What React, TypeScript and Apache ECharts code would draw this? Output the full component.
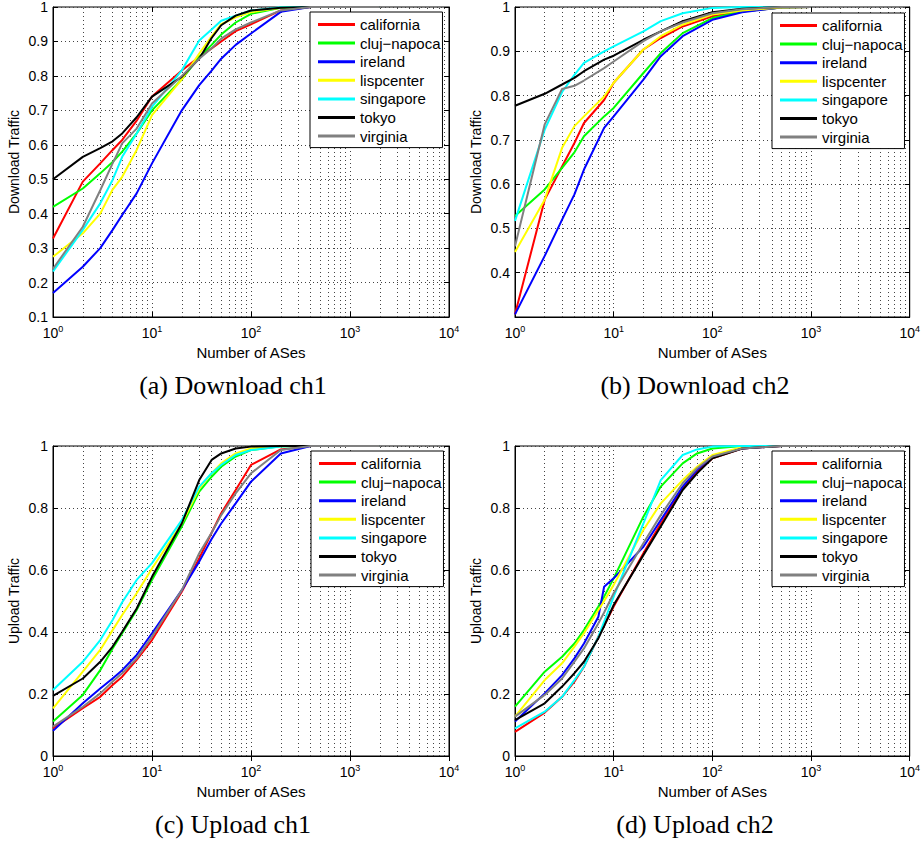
import React, { useEffect, useRef } from "react";
import * as echarts from "echarts";

const NAMES = ["california", "cluj\u2212napoca", "ireland", "lispcenter", "singapore", "tokyo", "virginia"];
const COLORS = ["#ff0000", "#00ff00", "#0000ff", "#ffff00", "#00ffff", "#000000", "#808080"];

// (a) Download ch1
const X_A = [1, 2, 3, 4, 5, 7, 10, 20, 30, 40, 50, 70, 100, 200, 400, 2000];
const A_CALIFORNIA = [0.328, 0.493, 0.546, 0.585, 0.614, 0.67, 0.74, 0.816, 0.855, 0.88, 0.9, 0.93, 0.95, 0.99, 1, 1];
const A_CLUJ = [0.42, 0.473, 0.517, 0.55, 0.58, 0.633, 0.7, 0.79, 0.855, 0.89, 0.92, 0.955, 0.98, 0.998, 1, 1];
const A_IRELAND = [0.17, 0.246, 0.3, 0.353, 0.396, 0.459, 0.546, 0.7, 0.773, 0.815, 0.85, 0.89, 0.923, 0.986, 1, 1];
const A_LISPCENTER = [0.275, 0.343, 0.4, 0.47, 0.507, 0.585, 0.686, 0.79, 0.865, 0.915, 0.95, 0.97, 0.985, 0.998, 1, 1];
const A_SINGAPORE = [0.232, 0.353, 0.43, 0.498, 0.565, 0.633, 0.71, 0.816, 0.903, 0.935, 0.96, 0.975, 0.99, 0.999, 1, 1];
const A_TOKYO = [0.5, 0.565, 0.59, 0.61, 0.633, 0.68, 0.74, 0.797, 0.85, 0.91, 0.947, 0.975, 0.99, 0.998, 1, 1];
const A_VIRGINIA = [0.24, 0.362, 0.468, 0.546, 0.604, 0.647, 0.72, 0.8, 0.85, 0.88, 0.908, 0.935, 0.955, 0.99, 1, 1];

// (b) Download ch2
const X_B = [1, 2, 3, 4, 5, 8, 10, 20, 30, 50, 100, 200, 500, 1000];
const B_CALIFORNIA = [0.306, 0.565, 0.64, 0.693, 0.738, 0.79, 0.829, 0.904, 0.93, 0.956, 0.979, 0.99, 0.999, 1];
const B_CLUJ = [0.528, 0.588, 0.637, 0.672, 0.708, 0.753, 0.772, 0.851, 0.896, 0.941, 0.975, 0.99, 0.999, 1];
const B_IRELAND = [0.306, 0.438, 0.52, 0.577, 0.633, 0.727, 0.753, 0.836, 0.889, 0.934, 0.971, 0.988, 0.999, 1];
const B_LISPCENTER = [0.447, 0.565, 0.682, 0.731, 0.753, 0.798, 0.829, 0.904, 0.934, 0.96, 0.983, 0.992, 0.999, 1];
const B_SINGAPORE = [0.517, 0.723, 0.808, 0.847, 0.874, 0.9, 0.911, 0.945, 0.968, 0.986, 0.998, 1, 1, 1];
const B_TOKYO = [0.777, 0.804, 0.825, 0.84, 0.855, 0.881, 0.89, 0.926, 0.945, 0.968, 0.988, 0.996, 1, 1];
const B_VIRGINIA = [0.46, 0.735, 0.815, 0.822, 0.834, 0.862, 0.877, 0.923, 0.945, 0.965, 0.986, 0.995, 1, 1];

// (c) Upload ch1
const X_C = [1, 2, 3, 4, 5, 7, 10, 20, 30, 40, 50, 70, 100, 200, 400, 2000];
const C_CALIFORNIA = [0.089, 0.154, 0.191, 0.229, 0.256, 0.31, 0.374, 0.53, 0.638, 0.72, 0.783, 0.858, 0.939, 0.989, 1, 1];
const C_CLUJ = [0.111, 0.197, 0.277, 0.347, 0.396, 0.471, 0.568, 0.74, 0.853, 0.901, 0.933, 0.966, 0.987, 0.999, 1, 1];
const C_IRELAND = [0.081, 0.17, 0.218, 0.25, 0.277, 0.326, 0.396, 0.535, 0.627, 0.7, 0.75, 0.815, 0.885, 0.976, 1, 1];
const C_LISPCENTER = [0.154, 0.272, 0.342, 0.406, 0.455, 0.525, 0.605, 0.75, 0.863, 0.912, 0.944, 0.976, 0.992, 0.999, 1, 1];
const C_SINGAPORE = [0.213, 0.304, 0.374, 0.439, 0.496, 0.568, 0.622, 0.761, 0.869, 0.912, 0.939, 0.971, 0.987, 0.998, 1, 1];
const C_TOKYO = [0.194, 0.25, 0.304, 0.353, 0.401, 0.476, 0.578, 0.75, 0.89, 0.955, 0.976, 0.992, 0.998, 1, 1, 1];
const C_VIRGINIA = [0.095, 0.159, 0.202, 0.24, 0.267, 0.315, 0.385, 0.535, 0.654, 0.72, 0.777, 0.847, 0.912, 0.987, 1, 1];

// (d) Upload ch2
const X_D = [1, 2, 3, 4, 5, 7, 8, 10, 20, 30, 50, 70, 100, 200, 500, 1000];
const D_CALIFORNIA = [0.078, 0.14, 0.191, 0.24, 0.288, 0.385, 0.42, 0.482, 0.654, 0.75, 0.863, 0.917, 0.96, 0.992, 1, 1];
const D_CLUJ = [0.159, 0.272, 0.32, 0.363, 0.406, 0.482, 0.514, 0.573, 0.772, 0.869, 0.944, 0.976, 0.992, 1, 1, 1];
const D_IRELAND = [0.111, 0.202, 0.261, 0.315, 0.363, 0.449, 0.546, 0.573, 0.675, 0.761, 0.869, 0.923, 0.966, 0.992, 1, 1];
const D_LISPCENTER = [0.127, 0.245, 0.299, 0.353, 0.396, 0.471, 0.5, 0.552, 0.729, 0.815, 0.89, 0.933, 0.971, 0.996, 1, 1];
const D_SINGAPORE = [0.089, 0.143, 0.191, 0.245, 0.288, 0.385, 0.433, 0.514, 0.75, 0.89, 0.971, 0.989, 0.998, 1, 1, 1];
const D_TOKYO = [0.116, 0.17, 0.224, 0.267, 0.304, 0.38, 0.419, 0.487, 0.648, 0.74, 0.858, 0.912, 0.96, 0.992, 1, 1];
const D_VIRGINIA = [0.127, 0.197, 0.25, 0.304, 0.347, 0.428, 0.463, 0.525, 0.686, 0.777, 0.88, 0.928, 0.966, 0.992, 1, 1];

const MINOR_X = [2, 3, 4, 5, 6, 7, 8, 9, 20, 30, 40, 50, 60, 70, 80, 90, 200, 300, 400, 500, 600, 700, 800, 900, 2000, 3000, 4000, 5000, 6000, 7000, 8000, 9000];

const Y_LABELS = ["Download Traffic", "Download Traffic", "Upload Traffic", "Upload Traffic"];
const CAPTIONS = ["(a) Download ch1", "(b) Download ch2", "(c) Upload ch1", "(d) Upload ch2"];
const Y_MIN = [0.1, 0.3, 0, 0];
const Y_INTERVAL = [0.1, 0.1, 0.2, 0.2];

const PANELS = [
  { xs: X_A, ys: [A_CALIFORNIA, A_CLUJ, A_IRELAND, A_LISPCENTER, A_SINGAPORE, A_TOKYO, A_VIRGINIA] },
  { xs: X_B, ys: [B_CALIFORNIA, B_CLUJ, B_IRELAND, B_LISPCENTER, B_SINGAPORE, B_TOKYO, B_VIRGINIA] },
  { xs: X_C, ys: [C_CALIFORNIA, C_CLUJ, C_IRELAND, C_LISPCENTER, C_SINGAPORE, C_TOKYO, C_VIRGINIA] },
  { xs: X_D, ys: [D_CALIFORNIA, D_CLUJ, D_IRELAND, D_LISPCENTER, D_SINGAPORE, D_TOKYO, D_VIRGINIA] },
];

const GRIDS = [
  { left: 53, top: 7, width: 396, height: 310 },
  { left: 515, top: 7, width: 395, height: 310 },
  { left: 53, top: 446, width: 396, height: 310 },
  { left: 515, top: 446, width: 395, height: 310 },
];
const LEGEND_POS = [
  { left: 310, top: 12 },
  { left: 772, top: 13 },
  { left: 311, top: 451 },
  { left: 772, top: 451 },
];
const CAPTION_POS = [
  { x: 233, y: 385 },
  { x: 695, y: 385 },
  { x: 233, y: 824 },
  { x: 695, y: 824 },
];

const SANS = "Liberation Sans, Arial, sans-serif";
const DOT = { type: [1, 3] as any, color: "#444", width: 1 };

export default function App() {
  const ref = useRef<HTMLDivElement>(null);
  useEffect(() => {
    if (!ref.current) return;
    const chart = echarts.init(ref.current, undefined, { renderer: "svg" });

    const xAxis: any[] = [];
    const yAxis: any[] = [];
    const series: any[] = [];

    GRIDS.forEach((_, p) => {
      xAxis.push({
        type: "log",
        logBase: 10,
        min: 1,
        max: 10000,
        gridIndex: p,
        name: "Number of ASes",
        nameLocation: "middle",
        nameGap: 28,
        nameTextStyle: { fontFamily: SANS, fontSize: 15, color: "#000" },
        axisLine: { lineStyle: { color: "#000", width: 1 } },
        axisTick: { inside: true, length: 5, lineStyle: { color: "#000" } },
        axisLabel: {
          margin: 7,
          formatter: (v: number) => `{b|10}{s|${Math.round(Math.log10(v))}}`,
          rich: {
            b: { fontFamily: SANS, fontSize: 14, color: "#000" },
            s: { fontFamily: SANS, fontSize: 9, color: "#000", verticalAlign: "top", padding: [0, 0, 8, 0] },
          },
        },
        splitLine: { show: true, lineStyle: DOT },
        z: 1,
      });
      yAxis.push({
        type: "value",
        gridIndex: p,
        min: Y_MIN[p],
        max: 1,
        interval: Y_INTERVAL[p],
        name: Y_LABELS[p],
        nameLocation: "middle",
        nameGap: 32,
        nameTextStyle: { fontFamily: SANS, fontSize: 14, color: "#000" },
        axisLine: { show: true, lineStyle: { color: "#000", width: 1 } },
        axisTick: { show: true, inside: true, length: 5, lineStyle: { color: "#000" } },
        axisLabel: {
          fontFamily: SANS,
          fontSize: 14,
          color: "#000",
          margin: 5,
          showMinLabel: p !== 1,
        },
        splitLine: { show: true, lineStyle: DOT },
        z: 1,
      });
    });
    // mirror axes (top / right) for the box ticks
    GRIDS.forEach((_, p) => {
      xAxis.push({
        type: "log",
        logBase: 10,
        min: 1,
        max: 10000,
        gridIndex: p,
        position: "top",
        axisLine: { show: false },
        axisTick: { show: true, inside: true, length: 5, lineStyle: { color: "#000" } },
        axisLabel: { show: false },
        splitLine: { show: false },
        z: 1,
      });
      yAxis.push({
        type: "value",
        gridIndex: p,
        min: Y_MIN[p],
        max: 1,
        interval: Y_INTERVAL[p],
        position: "right",
        axisLine: { show: true, lineStyle: { color: "#000", width: 1 } },
        axisTick: { show: true, inside: true, length: 5, lineStyle: { color: "#000" } },
        axisLabel: { show: false },
        splitLine: { show: false },
        z: 1,
      });
    });

    PANELS.forEach((panel, p) => {
      panel.ys.forEach((ys, i) => {
        const s: any = {
          type: "line",
          name: NAMES[i],
          xAxisIndex: p,
          yAxisIndex: p,
          data: panel.xs.map((x, k) => [x, ys[k]]),
          symbol: "none",
          showSymbol: false,
          clip: false,
          lineStyle: { color: COLORS[i], width: 2 },
          itemStyle: { color: COLORS[i] },
          z: 3 + i,
          silent: true,
        };
        if (i === 0) {
          s.markLine = {
            silent: true,
            symbol: ["none", "none"],
            label: { show: false },
            lineStyle: DOT,
            z: 1,
            data: MINOR_X.map((v) => ({ xAxis: v })),
          };
        }
        series.push(s);
      });
    });

    const legend = LEGEND_POS.map((pos) => ({
      ...pos,
      orient: "vertical",
      data: NAMES,
      backgroundColor: "#fff",
      borderColor: "#000",
      borderWidth: 1,
      padding: [5, 2, 4, 8],
      icon: "rect",
      itemWidth: 37,
      itemHeight: 3,
      itemGap: 3.6,
      selectedMode: false,
      textStyle: { fontFamily: SANS, fontSize: 15, color: "#000" },
      z: 10,
    }));

    const graphic = CAPTIONS.map((t, p) => ({
      type: "text",
      x: CAPTION_POS[p].x,
      y: CAPTION_POS[p].y,
      style: {
        text: t,
        fontFamily: "Liberation Serif, Times New Roman, serif",
        fontSize: 26,
        fill: "#000",
        textAlign: "center",
        textVerticalAlign: "middle",
      },
    }));

    chart.setOption({
      animation: false,
      backgroundColor: "#fff",
      grid: GRIDS.map((g) => ({ ...g, show: true, borderColor: "#000", borderWidth: 1, backgroundColor: "transparent" })),
      xAxis,
      yAxis,
      legend,
      series,
      graphic,
    });
    return () => chart.dispose();
  }, []);
  return <div ref={ref} style={{ position: "absolute", left: 0, top: 0, width: 923, height: 841 }} />;
}
